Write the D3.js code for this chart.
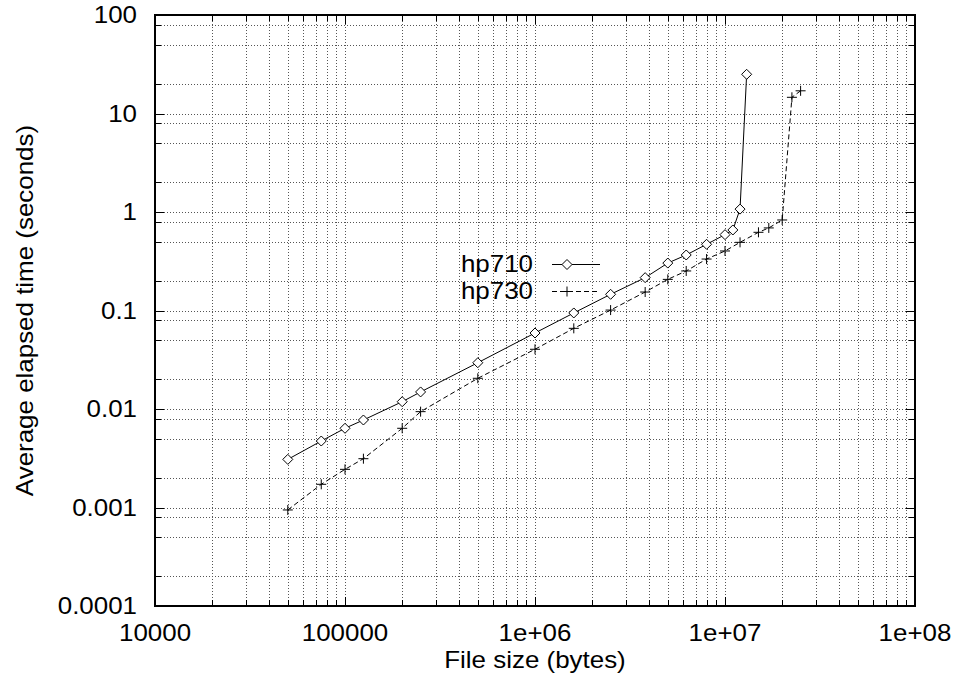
<!DOCTYPE html>
<html>
<head>
<meta charset="utf-8">
<script src="https://cdn.jsdelivr.net/npm/d3@7"></script>
<style>
  html, body { margin: 0; padding: 0; background: #fff; }
  text { font-family: "Liberation Sans", Arial, Helvetica, sans-serif; fill: #000; }
</style>
</head>
<body>
<svg id="chart" width="956" height="677"></svg>
<script>
// ---- data ----
const xTicks = [1e4, 1e5, 1e6, 1e7, 1e8];
const xTickLabels = ["10000", "100000", "1e+06", "1e+07", "1e+08"];
const yTicks = [100, 10, 1, 0.1, 0.01, 0.001, 0.0001];
const yTickLabels = ["100", "10", "1", "0.1", "0.01", "0.001", "0.0001"];

const size710 = [50000, 75000, 100000, 125000, 200000, 250000, 500000, 1000000, 1600000,
  2500000, 3800000, 5000000, 6250000, 8000000, 10000000, 11000000, 12000000, 13000000];
const time710 = [0.00308, 0.00473, 0.00637, 0.00773, 0.01186, 0.0149, 0.0295, 0.0591, 0.0944,
  0.146, 0.2155, 0.303, 0.366, 0.470, 0.589, 0.657, 1.07, 25.0];

const size730 = [50000, 75000, 100000, 125000, 200000, 250000, 500000, 1000000, 1600000,
  2500000, 3800000, 5000000, 6250000, 8000000, 10000000, 12000000, 15000000, 17000000,
  20000000, 22500000, 25000000];
const time730 = [0.000944, 0.00172, 0.00244, 0.00313, 0.00637, 0.0094, 0.0205, 0.0404, 0.0659,
  0.101, 0.154, 0.207, 0.252, 0.333, 0.402, 0.492, 0.622, 0.689, 0.83, 14.6, 17.0];

const seriesNames = ["hp710", "hp730"];
const xTitle = "File size (bytes)";
const yTitle = "Average elapsed time (seconds)";

// ---- layout ----
const W = 956, H = 677;
const margin = { left: 155, top: 15, right: 41, bottom: 71 };
const pw = W - margin.left - margin.right;
const ph = H - margin.top - margin.bottom;
const FS = 24, STRETCH = 1.08;

const svg = d3.select("#chart");
const g = svg.append("g").attr("transform", `translate(${margin.left},${margin.top})`);

const x = d3.scaleLog().domain([1e4, 1e8]).range([0, pw]);
const y = d3.scaleLog().domain([1e-4, 100]).range([ph, 0]);

function stretch(sel, f) {
  sel.each(function () {
    const L = this.getComputedTextLength();
    d3.select(this).attr("textLength", L * (f || STRETCH)).attr("lengthAdjust", "spacingAndGlyphs");
  });
}

// minor positions
const xMinor = [], yMinor = [];
for (let e = 4; e < 8; e++) for (let k = 2; k <= 9; k++) xMinor.push(k * Math.pow(10, e));
for (let e = -4; e < 2; e++) for (const k of [2, 5, 8]) yMinor.push(k * Math.pow(10, e));

// ---- grid (dotted) ----
const grid = g.append("g").attr("stroke", "#555").attr("stroke-width", 1).attr("stroke-dasharray", "1,2");
grid.selectAll(".gx").data(xMinor.concat(xTicks.slice(1, -1))).enter().append("line")
  .attr("x1", d => Math.round(x(d)) + 0.5).attr("x2", d => Math.round(x(d)) + 0.5)
  .attr("y1", 0).attr("y2", ph);
grid.selectAll(".gy").data(yMinor.concat(yTicks.slice(1, -1))).enter().append("line")
  .attr("y1", d => Math.round(y(d)) + 0.5).attr("y2", d => Math.round(y(d)) + 0.5)
  .attr("x1", 0).attr("x2", pw);

// ---- ticks (inward, mirrored) ----
const ticks = g.append("g").attr("stroke", "#000").attr("stroke-width", 1);
function xt(vals, len) {
  vals.forEach(v => {
    const px = Math.round(x(v)) + 0.5;
    ticks.append("line").attr("x1", px).attr("x2", px).attr("y1", ph).attr("y2", ph - len);
    ticks.append("line").attr("x1", px).attr("x2", px).attr("y1", 0).attr("y2", len);
  });
}
function yt(vals, len) {
  vals.forEach(v => {
    const py = Math.round(y(v)) + 0.5;
    ticks.append("line").attr("y1", py).attr("y2", py).attr("x1", 0).attr("x2", len);
    ticks.append("line").attr("y1", py).attr("y2", py).attr("x1", pw).attr("x2", pw - len);
  });
}
xt(xTicks, 9); xt(xMinor, 6);
yt(yTicks, 9); yt(yMinor, 6);

// ---- frame ----
g.append("rect").attr("x", 0).attr("y", 0).attr("width", pw).attr("height", ph)
  .attr("fill", "none").attr("stroke", "#000").attr("stroke-width", 2);

// ---- tick labels ----
g.selectAll(".xl").data(xTicks).enter().append("text")
  .attr("x", d => x(d)).attr("y", ph + 35)
  .attr("text-anchor", "middle").attr("font-size", FS)
  .text((d, i) => xTickLabels[i]).call(stretch);
g.selectAll(".yl").data(yTicks).enter().append("text")
  .attr("x", -18).attr("y", d => y(d)).attr("dy", "0.35em")
  .attr("text-anchor", "end").attr("font-size", FS)
  .text((d, i) => yTickLabels[i]).call(stretch);

// ---- axis titles ----
svg.append("text").attr("x", margin.left + pw / 2).attr("y", 668)
  .attr("text-anchor", "middle").attr("font-size", FS).text(xTitle).call(stretch);
svg.append("text").attr("transform", `translate(33,${margin.top + ph / 2}) rotate(-90)`)
  .attr("text-anchor", "middle").attr("font-size", FS).text(yTitle).call(stretch);

// ---- series ----
const d710 = size710.map((s, i) => [s, time710[i]]);
const d730 = size730.map((s, i) => [s, time730[i]]);
const line = d3.line().x(d => x(d[0])).y(d => y(d[1]));

g.append("path").datum(d710).attr("d", line).attr("fill", "none")
  .attr("stroke", "#000").attr("stroke-width", 1);
g.append("path").datum(d730).attr("d", line).attr("fill", "none")
  .attr("stroke", "#000").attr("stroke-width", 1).attr("stroke-dasharray", "5,3");

const diamond = (cx, cy) => `M${cx},${cy - 5}L${cx + 5},${cy}L${cx},${cy + 5}L${cx - 5},${cy}Z`;
const plus = (cx, cy) => `M${cx - 5},${cy}H${cx + 5}M${cx},${cy - 5}V${cy + 5}`;

g.selectAll(".m710").data(d710).enter().append("path")
  .attr("d", d => diamond(x(d[0]), y(d[1])))
  .attr("fill", "#fff").attr("stroke", "#000").attr("stroke-width", 1);
g.selectAll(".m730").data(d730).enter().append("path")
  .attr("d", d => plus(x(d[0]), y(d[1])))
  .attr("fill", "none").attr("stroke", "#000").attr("stroke-width", 1);

// ---- legend ----
const leg = svg.append("g");
const rows = [{ y: 264, dash: null, mk: diamond }, { y: 291, dash: "5,3", mk: plus }];
rows.forEach((r, i) => {
  leg.append("text").attr("x", 533).attr("y", r.y).attr("dy", "0.35em")
    .attr("text-anchor", "end").attr("font-size", FS).text(seriesNames[i]).call(stretch);
  leg.append("line").attr("x1", 552).attr("x2", 600).attr("y1", r.y + 0.5).attr("y2", r.y + 0.5)
    .attr("stroke", "#000").attr("stroke-width", 1).attr("stroke-dasharray", r.dash);
  leg.append("path").attr("d", r.mk(567, r.y + 0.5))
    .attr("fill", i === 0 ? "#fff" : "none").attr("stroke", "#000").attr("stroke-width", 1);
});
</script>
</body>
</html>
